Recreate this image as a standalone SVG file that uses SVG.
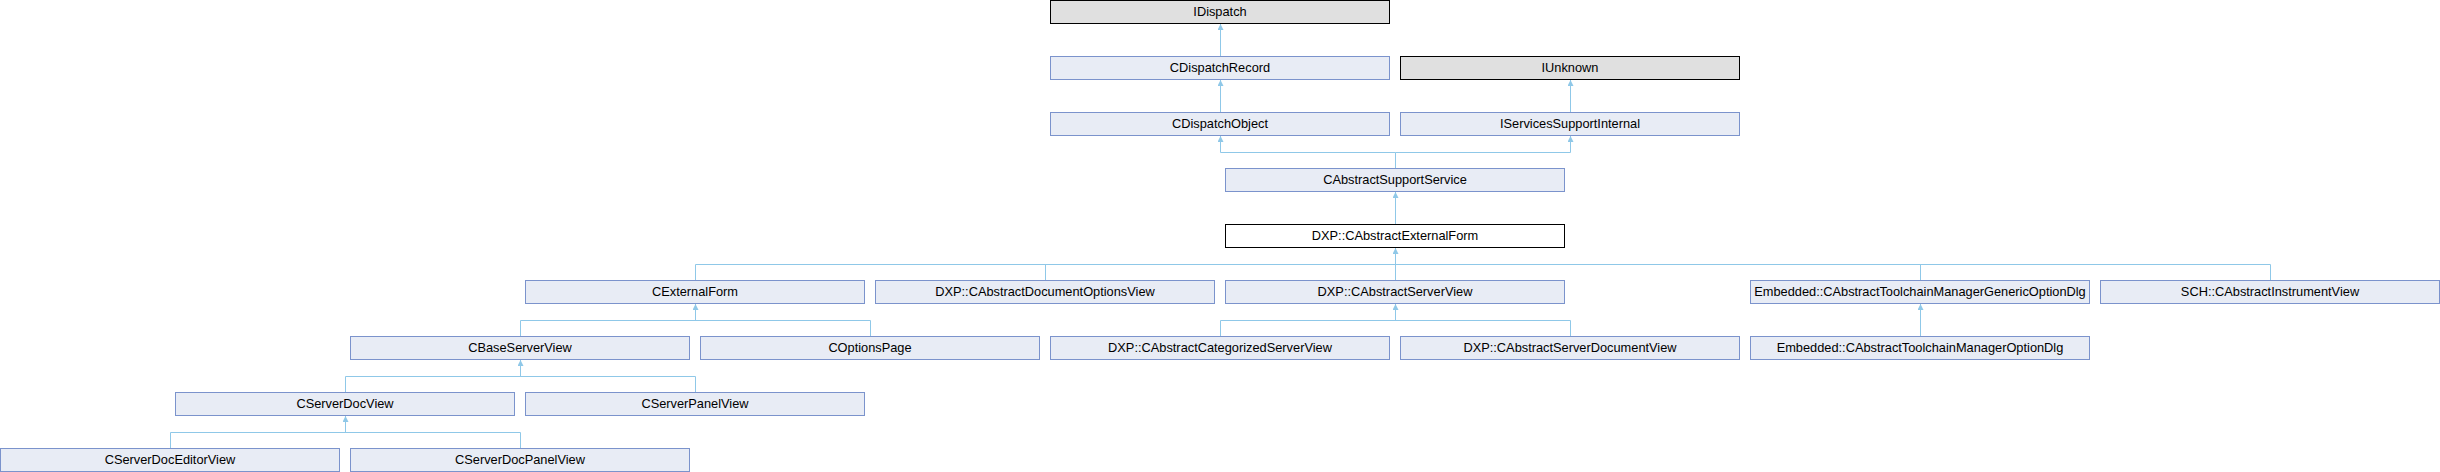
<svg xmlns="http://www.w3.org/2000/svg" width="2440" height="472" viewBox="0 0 2440 472">
<style>
.n rect{fill:#e8ecf5;stroke:#7b93cc;stroke-width:1}
.g rect{fill:#e0e0e0;stroke:#000000}
.w rect{fill:#ffffff;stroke:#000000}
text{font-family:"Liberation Sans",Arial,sans-serif;font-size:12.8px;fill:#000;text-anchor:middle}
.e path{fill:none;stroke:#8fc8e8;stroke-width:1}
</style>
<defs>
<marker id="a" markerUnits="userSpaceOnUse" viewBox="0 0 10 10" refX="10" refY="5" markerWidth="6" markerHeight="6" orient="auto">
<path d="M0,0 L10,5 L0,10 z" fill="#8fc8e8"/>
</marker>
</defs>
<rect width="2440" height="472" fill="#ffffff"/>
<g class="e">
<path d="M1220.5,56.5 V24" marker-end="url(#a)"/>
<path d="M1220.5,112.5 V80" marker-end="url(#a)"/>
<path d="M1570.5,112.5 V80" marker-end="url(#a)"/>
<path d="M1395.5,168.5 V152.5 H1220.5 V136" marker-end="url(#a)"/>
<path d="M1395.5,152.5 H1570.5 V136" marker-end="url(#a)"/>
<path d="M1395.5,224.5 V192" marker-end="url(#a)"/>
<path d="M695.5,280.5 V264.5 H2270.5 V280.5 M1045.5,264.5 V280.5 M1920.5,264.5 V280.5"/>
<path d="M1395.5,280.5 V248" marker-end="url(#a)"/>
<path d="M520.5,336.5 V320.5 H870.5 V336.5"/>
<path d="M695.5,320.5 V304" marker-end="url(#a)"/>
<path d="M1220.5,336.5 V320.5 H1570.5 V336.5"/>
<path d="M1395.5,320.5 V304" marker-end="url(#a)"/>
<path d="M1920.5,336.5 V304" marker-end="url(#a)"/>
<path d="M345.5,392.5 V376.5 H695.5 V392.5"/>
<path d="M520.5,376.5 V360" marker-end="url(#a)"/>
<path d="M170.5,448.5 V432.5 H520.5 V448.5"/>
<path d="M345.5,432.5 V416" marker-end="url(#a)"/>
</g>
<g id="IDispatch" class="g"><rect x="1050.5" y="0.5" width="339" height="23"/><text x="1220" y="15.5">IDispatch</text></g>
<g id="CDispatchRecord" class="n"><rect x="1050.5" y="56.5" width="339" height="23"/><text x="1220" y="71.5">CDispatchRecord</text></g>
<g id="IUnknown" class="g"><rect x="1400.5" y="56.5" width="339" height="23"/><text x="1570" y="71.5">IUnknown</text></g>
<g id="CDispatchObject" class="n"><rect x="1050.5" y="112.5" width="339" height="23"/><text x="1220" y="127.5">CDispatchObject</text></g>
<g id="IServicesSupportInternal" class="n"><rect x="1400.5" y="112.5" width="339" height="23"/><text x="1570" y="127.5">IServicesSupportInternal</text></g>
<g id="CAbstractSupportService" class="n"><rect x="1225.5" y="168.5" width="339" height="23"/><text x="1395" y="183.5">CAbstractSupportService</text></g>
<g id="CAbstractExternalForm" class="w"><rect x="1225.5" y="224.5" width="339" height="23"/><text x="1395" y="239.5">DXP::CAbstractExternalForm</text></g>
<g id="CExternalForm" class="n"><rect x="525.5" y="280.5" width="339" height="23"/><text x="695" y="295.5">CExternalForm</text></g>
<g id="CAbstractDocumentOptionsView" class="n"><rect x="875.5" y="280.5" width="339" height="23"/><text x="1045" y="295.5">DXP::CAbstractDocumentOptionsView</text></g>
<g id="CAbstractServerView" class="n"><rect x="1225.5" y="280.5" width="339" height="23"/><text x="1395" y="295.5">DXP::CAbstractServerView</text></g>
<g id="CAbstractToolchainManagerGenericOptionDlg" class="n"><rect x="1750.5" y="280.5" width="339" height="23"/><text x="1920" y="295.5">Embedded::CAbstractToolchainManagerGenericOptionDlg</text></g>
<g id="CAbstractInstrumentView" class="n"><rect x="2100.5" y="280.5" width="339" height="23"/><text x="2270" y="295.5">SCH::CAbstractInstrumentView</text></g>
<g id="CBaseServerView" class="n"><rect x="350.5" y="336.5" width="339" height="23"/><text x="520" y="351.5">CBaseServerView</text></g>
<g id="COptionsPage" class="n"><rect x="700.5" y="336.5" width="339" height="23"/><text x="870" y="351.5">COptionsPage</text></g>
<g id="CAbstractCategorizedServerView" class="n"><rect x="1050.5" y="336.5" width="339" height="23"/><text x="1220" y="351.5">DXP::CAbstractCategorizedServerView</text></g>
<g id="CAbstractServerDocumentView" class="n"><rect x="1400.5" y="336.5" width="339" height="23"/><text x="1570" y="351.5">DXP::CAbstractServerDocumentView</text></g>
<g id="CAbstractToolchainManagerOptionDlg" class="n"><rect x="1750.5" y="336.5" width="339" height="23"/><text x="1920" y="351.5">Embedded::CAbstractToolchainManagerOptionDlg</text></g>
<g id="CServerDocView" class="n"><rect x="175.5" y="392.5" width="339" height="23"/><text x="345" y="407.5">CServerDocView</text></g>
<g id="CServerPanelView" class="n"><rect x="525.5" y="392.5" width="339" height="23"/><text x="695" y="407.5">CServerPanelView</text></g>
<g id="CServerDocEditorView" class="n"><rect x="0.5" y="448.5" width="339" height="23"/><text x="170" y="463.5">CServerDocEditorView</text></g>
<g id="CServerDocPanelView" class="n"><rect x="350.5" y="448.5" width="339" height="23"/><text x="520" y="463.5">CServerDocPanelView</text></g>
</svg>
